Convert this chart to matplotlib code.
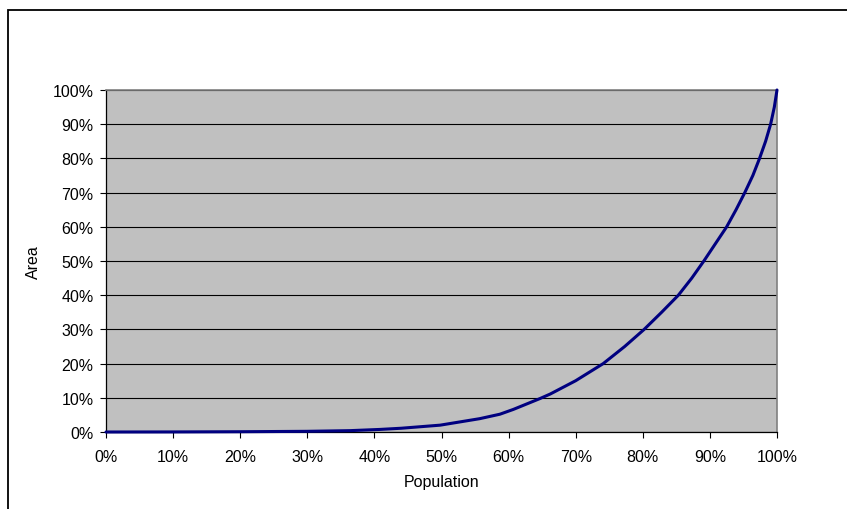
import matplotlib

matplotlib.use("Agg")
import matplotlib.pyplot as plt
from matplotlib.patches import Rectangle
from matplotlib.ticker import MultipleLocator, PercentFormatter

plt.rcParams["font.family"] = ["Liberation Sans", "DejaVu Sans"]

# cumulative share of population vs. cumulative share of area (in %)
population = [0, 10, 20, 30, 36.4, 40.8, 44.0, 49.8, 55.7, 58.7, 60.7,
              64.7, 66.2, 70.0, 74.1, 77.3, 80.2, 82.8, 85.3, 87.3, 89.1,
              90.8, 92.5, 93.9, 95.2, 96.4, 97.4, 98.3, 99.05, 99.6, 100]
area = [0, 0.02, 0.08, 0.2, 0.4, 0.75, 1.1, 2.0, 3.9, 5.2, 6.6,
        9.8, 11.1, 15.0, 20, 25, 30, 35, 40, 45, 50,
        55, 60, 65, 70, 75, 80, 85, 90, 95, 100]

fig = plt.figure(figsize=(8.47, 5.10), dpi=100)
ax = fig.add_axes([106 / 847, 77 / 510, 671 / 847, 342 / 510])
ax.set_facecolor("#c0c0c0")

ax.plot(population, area, color="#000080", lw=2.2, clip_on=False,
        solid_joinstyle="round", solid_capstyle="round", zorder=3)

ax.set_xlim(0, 100)
ax.set_ylim(0, 100)
ax.xaxis.set_major_locator(MultipleLocator(10))
ax.yaxis.set_major_locator(MultipleLocator(10))
ax.xaxis.set_major_formatter(PercentFormatter(decimals=0))
ax.yaxis.set_major_formatter(PercentFormatter(decimals=0))
ax.grid(axis="y", color="black", lw=0.8)
ax.set_axisbelow(True)

ax.tick_params(axis="both", direction="out", length=4.5, width=0.8,
               color="black", labelsize=11.5, labelcolor="black")
ax.tick_params(axis="y", pad=4.5)
ax.tick_params(axis="x", pad=8)

for side in ["left", "bottom"]:
    ax.spines[side].set_color("black")
    ax.spines[side].set_linewidth(0.9)
for side in ["top", "right"]:
    ax.spines[side].set_color("#808080")
    ax.spines[side].set_linewidth(1.2)

ax.set_xlabel("Population", fontsize=11.5, labelpad=7)
ax.set_ylabel("Area", fontsize=11.5, labelpad=8)

# chart frame
fig.patches.append(Rectangle((8 / 847, -0.2), 1.2, 1.2 - 11 / 510,
                             transform=fig.transFigure, fill=False,
                             edgecolor="black", lw=1.3))

plt.savefig("out.png", dpi=100)
plt.close()
